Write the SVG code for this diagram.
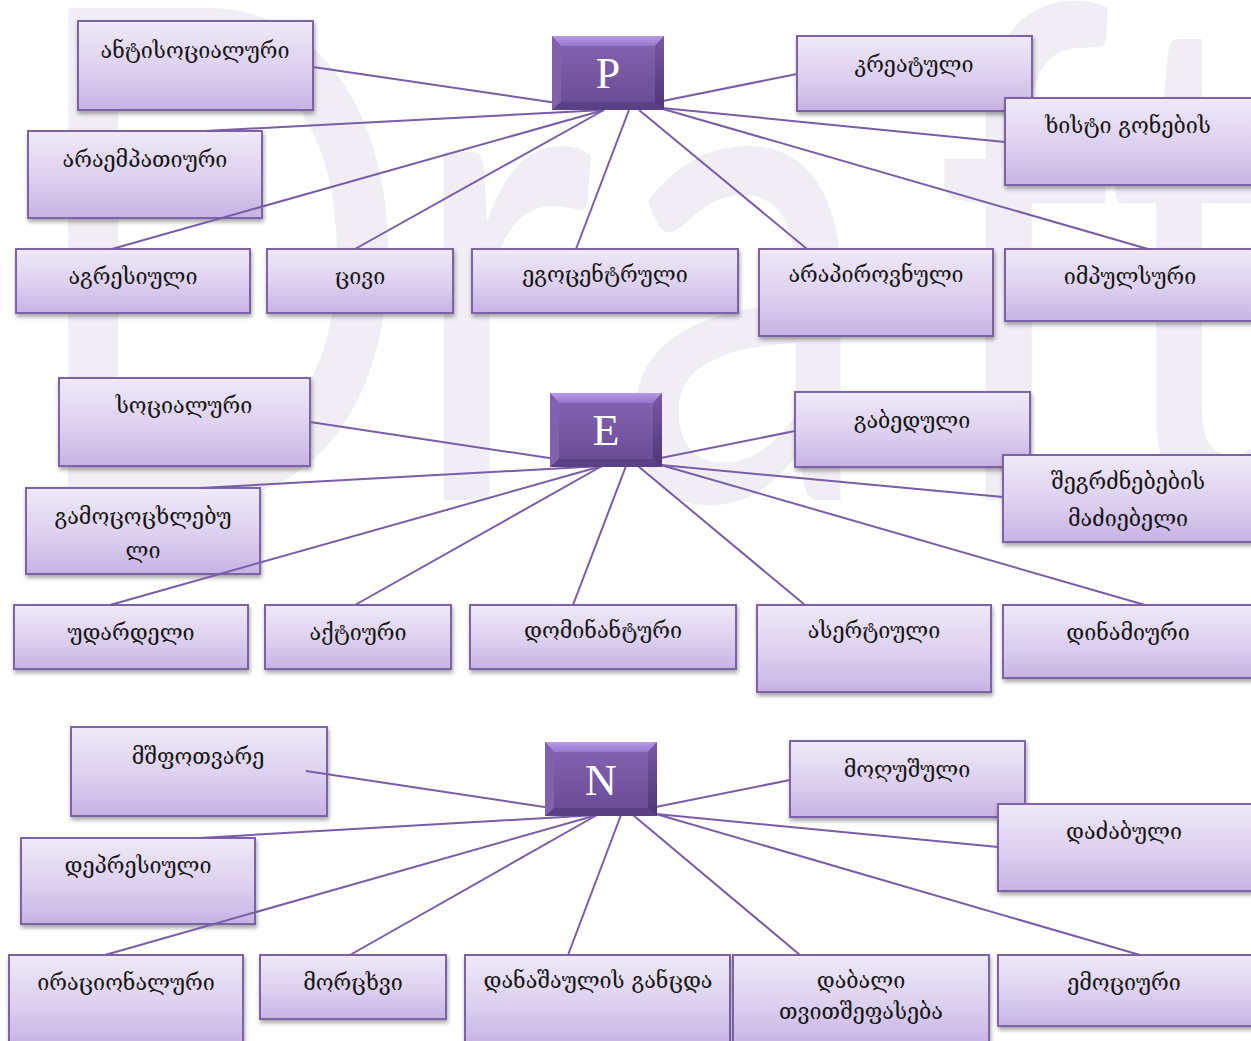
<svg xmlns="http://www.w3.org/2000/svg" xmlns:xlink="http://www.w3.org/1999/xlink" width="1251" height="1041" viewBox="0 0 1251 1041">
  <defs>
    <linearGradient id="boxg" x1="0" y1="0" x2="0" y2="1">
      <stop offset="0" stop-color="#efe9f8"/>
      <stop offset="0.55" stop-color="#dcd0ef"/>
      <stop offset="1" stop-color="#c6b3e4"/>
    </linearGradient>
    <linearGradient id="hubface" x1="0" y1="0" x2="0" y2="1">
      <stop offset="0" stop-color="#8565b3"/>
      <stop offset="1" stop-color="#684a93"/>
    </linearGradient>
    <linearGradient id="hubtop" x1="0" y1="0" x2="0" y2="1">
      <stop offset="0" stop-color="#b89ae8"/>
      <stop offset="1" stop-color="#9677cb"/>
    </linearGradient>
    <linearGradient id="hubright" x1="0" y1="0" x2="0" y2="1">
      <stop offset="0" stop-color="#7858a6"/>
      <stop offset="1" stop-color="#4f3676"/>
    </linearGradient>
    <filter id="sh" x="-10%" y="-10%" width="125%" height="135%">
      <feDropShadow dx="1" dy="3" stdDeviation="2" flood-color="#000" flood-opacity="0.35"/>
    </filter>
    <!-- bevelled hub tile, 112 x 74 -->
    <g id="hub">
      <rect x="0" y="0" width="112" height="74" fill="url(#hubface)"/>
      <polygon points="0,0 112,0 103,10 9,10" fill="url(#hubtop)"/>
      <polygon points="0,0 9,10 9,66 0,74" fill="#8161ae"/>
      <polygon points="112,0 112,74 103,66 103,10" fill="url(#hubright)"/>
      <polygon points="0,74 9,66 103,66 112,74" fill="#5a4084"/>
    </g>
    <style>
      .box { fill: url(#boxg); stroke: #7b62a6; stroke-width: 2; filter: url(#sh); }
      .t { font-family: "DejaVu Serif", "DejaVu Sans", serif; font-size: 21.5px; text-anchor: middle; fill: #151515; }
      .hubt { font-family: "Liberation Serif", "DejaVu Serif", serif; font-size: 44px; text-anchor: middle; fill: #ffffff; }
      .links line { stroke: #7a5ca8; stroke-width: 2; }
      .wm { font-family: Lato, "Open Sans", sans-serif; font-size: 687px; fill: #f0eef4; }
    </style>
  </defs>

  <rect width="1251" height="1041" fill="#ffffff"/>

  <!-- background watermark, letters placed one by one on a narrowed axis -->
  <text class="wm" transform="scale(0.75,1)" x="28 543 824 1243 1472" y="500">Draft</text>

  <!-- ===== P group ===== -->
  <g id="n-antisocialuri"><rect class="box" x="78" y="21" width="235" height="89"/><text class="t" x="195" y="58">ანტისოციალური</text></g>
  <g id="n-araempatiuri"><rect class="box" x="28" y="131" width="234" height="87"/><text class="t" x="145" y="167">არაემპათიური</text></g>
  <g id="n-agresiuli"><rect class="box" x="16" y="249" width="234" height="64"/><text class="t" x="133" y="284">აგრესიული</text></g>
  <g id="n-civi"><rect class="box" x="267" y="249" width="186" height="64"/><text class="t" x="360" y="284">ცივი</text></g>
  <g id="n-egocentruli"><rect class="box" x="472" y="249" width="266" height="64"/><text class="t" x="605" y="282">ეგოცენტრული</text></g>
  <g id="n-arapirovnuli"><rect class="box" x="759" y="249" width="234" height="87"/><text class="t" x="876" y="282">არაპიროვნული</text></g>
  <g id="n-impulsuri"><rect class="box" x="1005" y="249" width="250" height="72"/><text class="t" x="1130" y="284">იმპულსური</text></g>
  <g id="n-kreatuli"><rect class="box" x="797" y="36" width="235" height="75"/><text class="t" x="914" y="72">კრეატული</text></g>
  <g id="n-xisti"><rect class="box" x="1005" y="98" width="250" height="87"/><text class="t" x="1128" y="133">ხისტი გონების</text></g>

  <!-- ===== E group ===== -->
  <g id="n-socialuri"><rect class="box" x="59" y="378" width="251" height="88"/><text class="t" x="184" y="413">სოციალური</text></g>
  <g id="n-gamococxlebuli"><rect class="box" x="26" y="488" width="234" height="86"/><text class="t" x="143" y="524">გამოცოცხლებუ</text><text class="t" x="143" y="558">ლი</text></g>
  <g id="n-udardeli"><rect class="box" x="14" y="605" width="234" height="64"/><text class="t" x="131" y="640">უდარდელი</text></g>
  <g id="n-aqtiuri"><rect class="box" x="265" y="605" width="186" height="64"/><text class="t" x="358" y="640">აქტიური</text></g>
  <g id="n-dominanturi"><rect class="box" x="470" y="605" width="266" height="64"/><text class="t" x="603" y="638">დომინანტური</text></g>
  <g id="n-asertiuli"><rect class="box" x="757" y="605" width="234" height="87"/><text class="t" x="874" y="638">ასერტიული</text></g>
  <g id="n-dinamiuri"><rect class="box" x="1003" y="605" width="252" height="73"/><text class="t" x="1128" y="640">დინამიური</text></g>
  <g id="n-gabeduli"><rect class="box" x="795" y="392" width="235" height="75"/><text class="t" x="912" y="428">გაბედული</text></g>
  <g id="n-shegrdznebebis"><rect class="box" x="1003" y="455" width="252" height="87"/><text class="t" x="1128" y="489">შეგრძნებების</text><text class="t" x="1128" y="526">მაძიებელი</text></g>

  <!-- ===== N group ===== -->
  <g id="n-mshfotvare"><rect class="box" x="71" y="727" width="256" height="89"/><text class="t" x="198" y="764">მშფოთვარე</text></g>
  <g id="n-depresiuli"><rect class="box" x="21" y="838" width="234" height="86"/><text class="t" x="138" y="873">დეპრესიული</text></g>
  <g id="n-iracionaluri"><rect class="box" x="9" y="955" width="234" height="90"/><text class="t" x="126" y="990">ირაციონალური</text></g>
  <g id="n-morcxvi"><rect class="box" x="260" y="955" width="186" height="64"/><text class="t" x="353" y="990">მორცხვი</text></g>
  <g id="n-danashaulis"><rect class="box" x="465" y="955" width="265" height="90"/><text class="t" x="598" y="988">დანაშაულის განცდა</text></g>
  <g id="n-dabali"><rect class="box" x="733" y="955" width="256" height="90"/><text class="t" x="861" y="988">დაბალი</text><text class="t" x="861" y="1019">თვითშეფასება</text></g>
  <g id="n-emociuri"><rect class="box" x="998" y="955" width="257" height="71"/><text class="t" x="1124" y="990">ემოციური</text></g>
  <g id="n-mogushuli"><rect class="box" x="790" y="741" width="235" height="76"/><text class="t" x="907" y="777">მოღუშული</text></g>
  <g id="n-dadzabuli"><rect class="box" x="998" y="804" width="257" height="87"/><text class="t" x="1124" y="839">დაძაბული</text></g>

  <!-- connectors -->
  <g class="links">
    <line x1="313" y1="67" x2="604" y2="110"/>
    <line x1="205" y1="131" x2="604" y2="110"/>
    <line x1="112" y1="249" x2="604" y2="110"/>
    <line x1="355" y1="249" x2="604" y2="110"/>
    <line x1="576" y1="249" x2="629" y2="110"/>
    <line x1="807" y1="249" x2="639" y2="110"/>
    <line x1="1148" y1="249" x2="663" y2="109"/>
    <line x1="797" y1="74" x2="628" y2="108"/>
    <line x1="1005" y1="142" x2="662" y2="108"/>

    <line x1="310" y1="422" x2="602" y2="466"/>
    <line x1="200" y1="488" x2="602" y2="466"/>
    <line x1="110" y1="605" x2="602" y2="466"/>
    <line x1="355" y1="605" x2="602" y2="466"/>
    <line x1="573" y1="605" x2="626" y2="466"/>
    <line x1="805" y1="605" x2="638" y2="466"/>
    <line x1="1145" y1="605" x2="661" y2="465"/>
    <line x1="795" y1="431" x2="626" y2="465"/>
    <line x1="1003" y1="497" x2="661" y2="465"/>

    <line x1="306" y1="771" x2="597" y2="815"/>
    <line x1="200" y1="838" x2="597" y2="815"/>
    <line x1="105" y1="955" x2="597" y2="815"/>
    <line x1="350" y1="955" x2="597" y2="815"/>
    <line x1="568" y1="955" x2="621" y2="815"/>
    <line x1="800" y1="955" x2="633" y2="815"/>
    <line x1="1140" y1="955" x2="656" y2="814"/>
    <line x1="790" y1="780" x2="621" y2="814"/>
    <line x1="998" y1="847" x2="656" y2="814"/>
  </g>

  <!-- hubs -->
  <g id="n-P"><use xlink:href="#hub" x="552" y="36"/><text class="hubt" x="608" y="88">P</text></g>
  <g id="n-E"><use xlink:href="#hub" x="550" y="393"/><text class="hubt" x="606" y="445">E</text></g>
  <g id="n-N"><use xlink:href="#hub" x="545" y="742"/><text class="hubt" x="601" y="795">N</text></g>
</svg>
